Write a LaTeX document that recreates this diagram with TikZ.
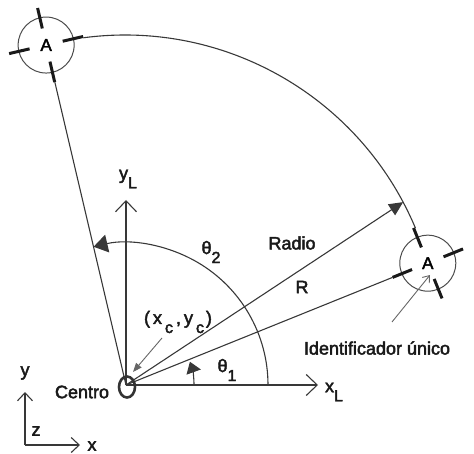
\documentclass[tikz,border=0pt]{standalone}
\usepackage{fontspec}
\setmainfont{Liberation Sans}
\usetikzlibrary{arrows.meta,calc,shapes.geometric}
\newfontfamily\heavyfont{Liberation Sans}[FakeBold=2.5]
\newcommand\lowsub[1]{\raisebox{-0.5em}{\fontsize{16}{18}\selectfont #1}}
\begin{document}
\begin{tikzpicture}[x=1pt,y=1pt,
  ln/.style={draw=black!78, line width=1.1pt},
  thinln/.style={draw=black!60, line width=0.9pt},
  tickmark/.style={draw=black!90, line width=3pt},
  lbl/.style={font=\heavyfont\fontsize{18}{20}\selectfont, inner sep=0pt, text=black!90},
  anode/.style={circle, draw=black!70, line width=1pt, minimum size=56pt, inner sep=0pt, font=\heavyfont\fontsize{17}{19}\selectfont},
  fillarrow/.style={-{Triangle[length=14pt,width=13pt]}},
  openarrow/.style={-{Straight Barb[length=11pt,width=21pt,line width=1.1pt]}},
  smallopen/.style={-{Straight Barb[length=8pt,width=15pt,line width=1.1pt]}},
]
\useasboundingbox (0,0) rectangle (474,453);
\coordinate (O) at (126,68);
\coordinate (C) at (125,103);
\node[anode] (A1) at ($(C)+(104.5:315)$) {A};
\node[anode] (A2) at ($(C)+(16:315)$) {A};
% ticks
\foreach \a in {13,103,193,283}
  \draw[tickmark] ($(A1.center)+(\a:17)$) -- ($(A1.center)+(\a:38)$);
\foreach \a in {22,112,202,292}
  \draw[tickmark] ($(A2.center)+(\a:17)$) -- ($(A2.center)+(\a:38)$);
% big arc
\draw[ln] ($(C)+(97.6:315)$) arc[start angle=97.6, end angle=22.8, radius=315];
% radial lines
\coordinate (Rt) at ($(C)+(28:315)$);
\draw[ln, fillarrow] (O) -- (Rt);
\draw[ln] (O) -- ($(A2.center)!38pt!(O)$);
\draw[ln] (O) -- ($(A1.center)!38pt!(O)$);
% local axes
\coordinate (xLend) at (318,68);
\coordinate (yLend) at (126,253);
\draw[ln, openarrow] (O) -- (xLend);
\draw[ln, openarrow] (O) -- (yLend);
% angle arcs
\draw[ln, -{Triangle[length=14pt,width=18pt]}] ($(O)+(142,0)$) arc[start angle=0, end angle=103.2, radius=142];
\draw[ln, -{Triangle[length=11pt,width=15pt]}] ($(O)+(68,0)$) arc[start angle=0, end angle=20, radius=68];
% centre ellipse
\node[draw=black!80, line width=2.6pt, ellipse, minimum width=16pt, minimum height=21pt, inner sep=0pt] (Oe) at (127,66) {};
% small global axes
\coordinate (s0) at (25,8);
\coordinate (sy) at (25,61);
\coordinate (sx) at (80,8);
\draw[ln, smallopen] (s0) -- (sy);
\draw[ln, smallopen] (s0) -- (sx);
% pointer arrows
\coordinate (xcs) at (162,115);
\coordinate (xce) at (133,81);
\draw[thinln, -{Triangle[length=9pt,width=7pt]}] (xcs) -- (xce);
\coordinate (ids) at (392,131);
\coordinate (ide) at (430,178);
\draw[thinln, -{Straight Barb[length=6pt,width=9pt,line width=0.9pt]}] (ids) -- (ide);
% labels
\node[lbl] (lradio) at (292,210) {Radio};
\node[lbl] (lr) at (302,166) {R};
\node[lbl] (lid) at (377,105) {Identificador único};
\node[lbl] (lcentro) at (82,61) {Centro};
\node[lbl] (lt2) at (211,201) {θ\lowsub{2}};
\node[lbl] (lt1) at (227,83) {θ\lowsub{1}};
\node[lbl] (lxc) at (178,131) {(\hspace{3pt}x\hspace{3pt}\lowsub{c}\hspace{3pt},\hspace{3pt}y\hspace{3pt}\lowsub{c}\hspace{2pt})};
\node[lbl] (lxl) at (334,61) {x\lowsub{L}};
\node[lbl] (lyl) at (128,274) {y\lowsub{L}};
\node[lbl] (lsy) at (25,80) {y};
\node[lbl] (lsz) at (36,22) {z};
\node[lbl] (lsx) at (92,7) {x};
\end{tikzpicture}
\end{document}
